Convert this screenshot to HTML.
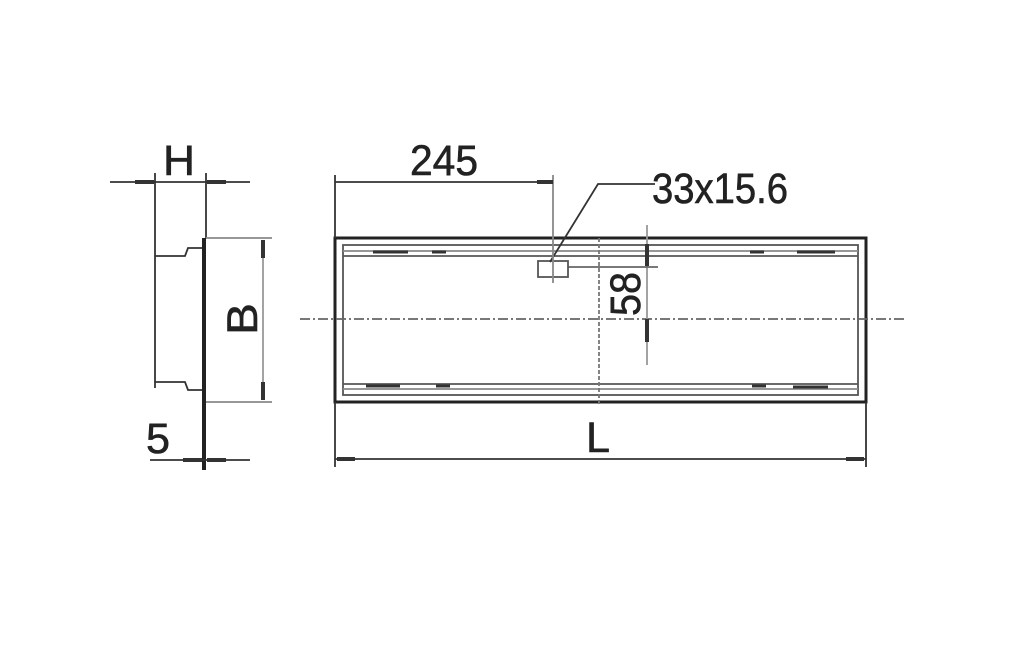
<!DOCTYPE html>
<html><head><style>html,body{margin:0;padding:0;background:#fff}</style></head><body>
<svg width="1024" height="643" viewBox="0 0 1024 643" xmlns="http://www.w3.org/2000/svg" font-family="Liberation Sans, sans-serif">
<g stroke="#333" fill="none" stroke-width="1.8">
<!-- left view -->
<line x1="110" y1="182" x2="250" y2="182"/>
<line x1="155" y1="173" x2="155" y2="388"/>
<line x1="206" y1="173" x2="206" y2="238"/>
<polyline points="155,256 185,256 188,248 203,248"/>
<polyline points="155,382 185,382 188,390 203,390"/>
<line x1="204" y1="238" x2="204" y2="470" stroke-width="4" stroke="#222"/>
<line x1="206" y1="238" x2="272" y2="238" stroke="#888"/>
<line x1="206" y1="402" x2="272" y2="402" stroke="#888"/>
<line x1="263" y1="240" x2="263" y2="400" stroke="#999"/>
<line x1="150" y1="460" x2="250" y2="460"/>
<!-- arrows left -->
<line x1="135" y1="182" x2="154" y2="182" stroke-width="4"/>
<line x1="207" y1="182" x2="226" y2="182" stroke-width="4"/>
<line x1="263" y1="240" x2="263" y2="258" stroke-width="4"/>
<line x1="263" y1="382" x2="263" y2="400" stroke-width="4"/>
<line x1="183" y1="460" x2="202" y2="460" stroke-width="4"/>
<line x1="207" y1="460" x2="226" y2="460" stroke-width="4"/>
<!-- main view -->
<rect x="335" y="238" width="531" height="164" stroke-width="3" stroke="#222"/>
<rect x="343" y="245" width="515" height="150" stroke="#555"/>
<line x1="343" y1="251" x2="858" y2="251" stroke="#888"/>
<line x1="343" y1="256" x2="858" y2="256" stroke="#555"/>
<line x1="343" y1="384" x2="858" y2="384" stroke="#555"/>
<line x1="343" y1="389" x2="858" y2="389" stroke="#888"/>
<line x1="373" y1="252" x2="408" y2="252" stroke-width="3"/>
<line x1="432" y1="252" x2="446" y2="252" stroke-width="3"/>
<line x1="366" y1="386" x2="400" y2="386" stroke-width="3"/>
<line x1="436" y1="386" x2="450" y2="386" stroke-width="3"/>
<line x1="750" y1="252" x2="764" y2="252" stroke-width="3"/>
<line x1="797" y1="252" x2="835" y2="252" stroke-width="3"/>
<line x1="752" y1="386" x2="766" y2="386" stroke-width="3"/>
<line x1="793" y1="387" x2="828" y2="387" stroke-width="3"/>
<line x1="300" y1="319" x2="905" y2="319" stroke="#666" stroke-dasharray="10,3,2,3"/>
<line x1="599" y1="238" x2="599" y2="406" stroke="#777" stroke-dasharray="4,2"/>
<line x1="647" y1="225" x2="647" y2="365" stroke="#999"/>
<line x1="647" y1="244" x2="647" y2="266" stroke-width="4"/>
<line x1="647" y1="319" x2="647" y2="342" stroke-width="4"/>
<line x1="568" y1="267" x2="658" y2="267" stroke="#666"/>
<rect x="538" y="261" width="30" height="16" stroke="#555"/>
<polyline points="550,262 598,184 655,184"/>
<line x1="335" y1="175" x2="335" y2="238"/>
<line x1="553" y1="175" x2="553" y2="283" stroke="#888"/>
<line x1="335" y1="182" x2="553" y2="182"/>
<line x1="537" y1="182" x2="553" y2="182" stroke-width="4"/>
<line x1="866" y1="402" x2="866" y2="467"/>
<line x1="335" y1="402" x2="335" y2="467"/>
<line x1="335" y1="459" x2="866" y2="459"/>
<line x1="337" y1="459" x2="355" y2="459" stroke-width="4"/>
<line x1="846" y1="459" x2="864" y2="459" stroke-width="4"/>
</g>
<g fill="#222" stroke="#222" stroke-width="0.6" font-size="43">
<text x="163" y="175" textLength="32" lengthAdjust="spacingAndGlyphs">H</text>
<text x="410" y="175" textLength="68" lengthAdjust="spacingAndGlyphs">245</text>
<text x="652" y="203" textLength="136" lengthAdjust="spacingAndGlyphs">33x15.6</text>
<text x="146" y="453" textLength="24" lengthAdjust="spacingAndGlyphs">5</text>
<text x="586" y="452" textLength="24" lengthAdjust="spacingAndGlyphs">L</text>
<text transform="translate(257,335) rotate(-90)" textLength="32" lengthAdjust="spacingAndGlyphs">B</text>
<text transform="translate(640,316) rotate(-90)" textLength="44" lengthAdjust="spacingAndGlyphs">58</text>
</g>
</svg>
</body></html>
